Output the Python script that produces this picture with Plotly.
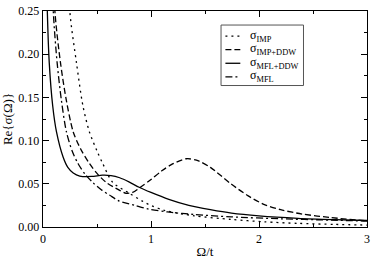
import plotly.graph_objects as go

# Re{sigma(Omega)}
omega_imp = [0.20, 0.248, 0.31, 0.37, 0.43, 0.50, 0.553, 0.645, 0.80, 0.92, 0.98, 1.13, 1.40, 1.745, 2.05, 2.36, 2.70, 3.0]
sigma_imp = [0.40, 0.25, 0.19, 0.14, 0.110, 0.088, 0.0735, 0.0517, 0.039, 0.030, 0.026, 0.019, 0.013, 0.0087, 0.006, 0.0042, 0.003, 0.0022]

omega_imp_ddw = [0.07, 0.11, 0.162, 0.217, 0.28, 0.35, 0.43, 0.50, 0.584, 0.706, 0.77, 0.83, 0.89, 1.0, 1.1, 1.2, 1.33, 1.44, 1.55, 1.74, 1.9, 2.05, 2.2, 2.4, 2.66, 3.0]
sigma_imp_ddw = [0.40, 0.25, 0.19, 0.146, 0.110, 0.090, 0.0735, 0.062, 0.0517, 0.0426, 0.039, 0.040, 0.045, 0.055, 0.065, 0.073, 0.079, 0.0765, 0.069, 0.050, 0.036, 0.026, 0.020, 0.015, 0.011, 0.007]

omega_mfl_ddw = [0.02, 0.04, 0.058, 0.09, 0.125, 0.186, 0.23, 0.28, 0.34, 0.45, 0.55, 0.63, 0.71, 0.80, 0.89, 1.0, 1.165, 1.35, 1.55, 1.745, 2.0, 2.36, 2.7, 3.0]
sigma_mfl_ddw = [0.40, 0.25, 0.19, 0.14, 0.110, 0.081, 0.069, 0.0625, 0.059, 0.0585, 0.060, 0.0595, 0.057, 0.052, 0.046, 0.040, 0.032, 0.025, 0.020, 0.016, 0.0128, 0.010, 0.0085, 0.0075]

omega_mfl = [0.06, 0.095, 0.131, 0.171, 0.217, 0.27, 0.324, 0.39, 0.46, 0.54, 0.615, 0.706, 0.85, 0.98, 1.15, 1.4, 1.745, 2.2, 2.66, 3.0]
sigma_mfl = [0.40, 0.25, 0.19, 0.146, 0.110, 0.088, 0.0735, 0.061, 0.0517, 0.043, 0.037, 0.030, 0.025, 0.0207, 0.0175, 0.0145, 0.0117, 0.0095, 0.008, 0.0068]

series_names = ["σ<sub>IMP</sub>", "σ<sub>IMP+DDW</sub>", "σ<sub>MFL+DDW</sub>", "σ<sub>MFL</sub>"]

x_ticks = [0, 1, 2, 3]
y_ticks = [0.00, 0.05, 0.10, 0.15, 0.20, 0.25]
x_title = "Ω/t"
y_title = "Re{σ(Ω)}"

FONT = "Liberation Serif"
DASHES = ["2px,4px", "6px,3px", "solid", "7px,3px,2px,3px"]

fig = go.Figure()
data = [(omega_imp, sigma_imp), (omega_imp_ddw, sigma_imp_ddw),
        (omega_mfl_ddw, sigma_mfl_ddw), (omega_mfl, sigma_mfl)]
for (xs, ys), name, dash in zip(data, series_names, DASHES):
    fig.add_trace(go.Scatter(x=xs, y=ys, mode="lines", name=name, showlegend=False,
                             line=dict(color="black", width=1.3, dash=dash,
                                       shape="spline", smoothing=0.8)))

axis_common = dict(showline=True, linecolor="black", linewidth=1.3, mirror="allticks",
                   ticks="inside", ticklen=6, tickwidth=1, tickcolor="black",
                   showgrid=False, zeroline=False, ticklabeloverflow="allow",
                   tickfont=dict(family=FONT, size=12, color="black"))
fig.update_xaxes(range=[0, 3.0000001], tickvals=x_ticks, ticktext=[str(v) for v in x_ticks],
                 minor=dict(dtick=0.5, ticks="inside", ticklen=3, tickcolor="black", showgrid=False),
                 title=dict(text=x_title, font=dict(family=FONT, size=13, color="black"), standoff=2),
                 **axis_common)
fig.update_yaxes(range=[0, 0.2500001], tickvals=y_ticks, ticktext=[f"{v:.2f}" for v in y_ticks],
                 minor=dict(dtick=0.025, ticks="inside", ticklen=3, tickcolor="black", showgrid=False),
                 title=dict(text=y_title, font=dict(family=FONT, size=13, color="black"), standoff=4),
                 **axis_common)

# legend box drawn like the original (short line samples)
box = dict(x0=0.5495, x1=0.804, y0=0.655, y1=0.935)
fig.add_shape(type="rect", xref="paper", yref="paper", **box,
              line=dict(color="#555", width=1), fillcolor="white", layer="above")
entry_y = [0.884, 0.821, 0.758, 0.695]
for yy, name, dash in zip(entry_y, series_names, DASHES):
    fig.add_shape(type="line", xref="paper", yref="paper", x0=0.563, x1=0.609, y0=yy, y1=yy,
                  line=dict(color="black", width=1.3, dash=dash), layer="above")
    fig.add_annotation(xref="paper", yref="paper", x=0.633, y=yy + 0.002, text=name,
                       showarrow=False, xanchor="left", yanchor="middle",
                       font=dict(family=FONT, size=12, color="black"))

fig.update_layout(width=374, height=261, margin=dict(l=43, r=4, t=6, b=28),
                  plot_bgcolor="white", paper_bgcolor="white", showlegend=False)
fig.write_html("out.html", config={"displayModeBar": False, "staticPlot": True},
               post_script="document.body.style.margin='0';document.body.style.overflow='hidden';")
